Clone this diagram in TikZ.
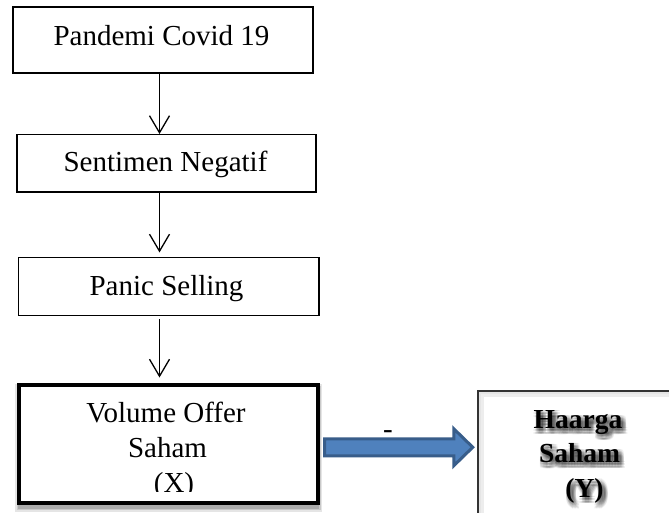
\documentclass[tikz,border=0pt]{standalone}
\usepackage{fontspec}
\setmainfont{Liberation Serif}
\usetikzlibrary{arrows.meta,calc}
\definecolor{arrowfill}{HTML}{4F81BD}
\definecolor{arrowedge}{HTML}{385D8A}
\tikzset{
  flowbox/.style={draw=black, line width=1.5pt, fill=white, inner sep=0pt},
  mainbox/.style={draw=black, line width=4pt, fill=white, inner sep=0pt},
  resbox/.style={draw=black!80, line width=1.5pt, fill=white, inner sep=0pt},
  txt/.style={anchor=base, inner sep=0pt, font=\fontsize{29}{35}\selectfont},
  btxt/.style={anchor=base, inner sep=0pt, font=\fontsize{27.5}{34}\selectfont\bfseries},
  stxt/.style={btxt, text=black, opacity=0.06},
  flowarrow/.style={line width=1.3pt, -{Straight Barb[length=17pt,width=20pt]}},
  bigarrow/.style={fill=arrowfill, draw=arrowedge, line width=3pt, line join=miter}
}
\begin{document}
\begin{tikzpicture}[x=1pt,y=-1pt]
\clip (0,0) rectangle (669,513);
\fill[white] (0,0) rectangle (669,513);

% boxes
\node[flowbox, minimum width=300pt, minimum height=66pt] (box1) at (163,40) {};
\node[flowbox, minimum width=299.2pt, minimum height=57.3pt] (box2) at (166.4,163.4) {};
\node[flowbox, minimum width=300.5pt, minimum height=57.8pt] (box3) at (168.75,286.6) {};

% shadow of box4
\foreach \e/\o in {5/0.10,3.5/0.12,2/0.15}{
  \fill[black, opacity=\o] (19-\e+1,385+4-\e) rectangle (318+\e-1,502.5+4+\e);
}
\node[mainbox, minimum width=299pt, minimum height=117.5pt] (box4) at (168.5,443.75) {};

% box5 with inner shade
\node[resbox, minimum width=260pt, minimum height=160pt] (box5) at (608,471) {};
\draw[black!7, line width=5pt] (478+3.3,391+3.3) rectangle (760,560);
\draw[black!10, line width=2pt] (478+1.8,391+1.8) rectangle (760,560);

% texts
\node[txt] (t1) at (161.5,46) {Pandemi Covid 19};
\node[txt] (t2) at (165.5,172) {Sentimen Negatif};
\node[txt] (t3) at (166.5,295.5) {Panic Selling};
\node[txt] (t4a) at (166,422) {Volume Offer};
\node[txt] (t4b) at (167.5,457) {Saham};
\begin{scope}
  \clip (25,470) rectangle (310,491);
  \node[txt] (t4c) at (174,492) {(X)};
\end{scope}

% bold text with soft blurred shadow
\foreach \dx in {0,1.5,3,4.5,6}{
  \foreach \dy in {1,2.5,4,5.5,7}{
    \node[stxt] (s5a-\dx-\dy) at (578+\dx-0.5,428+\dy-0.5) {Haarga};
    \node[stxt] (s5b-\dx-\dy) at (579.5+\dx-0.5,462+\dy-0.5) {Saham};
    \node[stxt] (s5c-\dx-\dy) at (584.5+\dx-0.5,497+\dy-0.5) {(Y)};
  }
}
\node[btxt] (t5a) at (578,428) {Haarga};
\node[btxt] (t5b) at (579.5,462) {Saham};
\node[btxt] (t5c) at (584.5,497) {(Y)};

% connectors
\coordinate (ax) at (159.5,0);
\draw[flowarrow] (box1.south -| ax) -- (box2.north -| ax);
\draw[flowarrow, shorten >=4.5pt] (box2.south -| ax) -- (box3.north -| ax);
\draw[flowarrow, shorten >=5.5pt, shorten <=3pt] (box3.south -| ax) -- (box4.north -| ax);

% big blue arrow
\coordinate (bstart) at ($(box4.east)+(4.5,3.5)$);
\coordinate (btip) at ($(box5.west |- bstart)+(-4.5,0)$);
\draw[bigarrow] ($(bstart)+(0,-8.5)$) -- ($(btip)+(-19,-8.5)$) -- ($(btip)+(-19,-18.5)$)
  -- (btip) -- ($(btip)+(-19,18.5)$) -- ($(btip)+(-19,8.5)$) -- ($(bstart)+(0,8.5)$) -- cycle;
\node[txt] (minus) at (388,438) {-};
\end{tikzpicture}
\end{document}
